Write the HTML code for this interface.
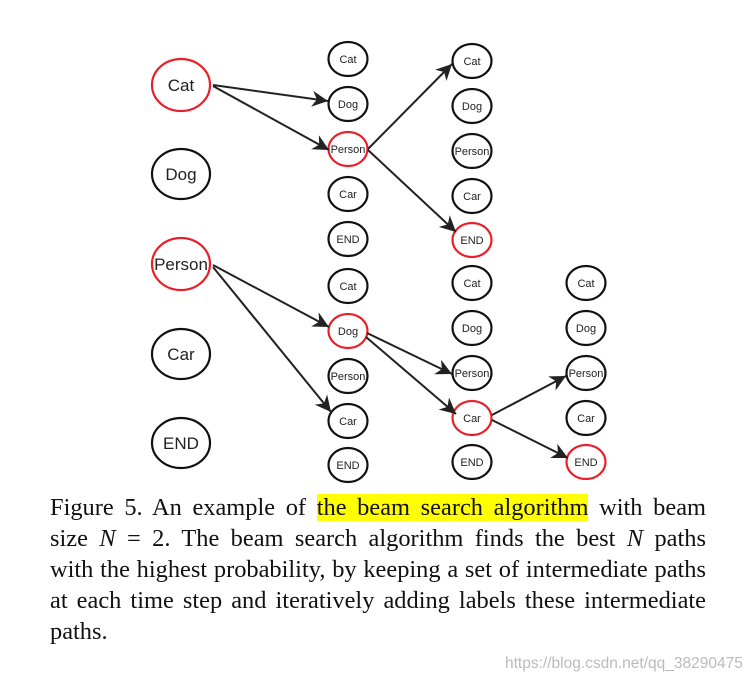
<!DOCTYPE html>
<html><head><meta charset="utf-8"><style>
body{margin:0;background:#fff;width:756px;height:684px;overflow:hidden;position:relative}
svg{position:absolute;left:0;top:0}
.cap{position:absolute;left:50px;top:492px;width:656px;font-family:"Liberation Serif",serif;font-size:24.4px;line-height:31px;color:#111}
.cap div{text-align:justify;text-align-last:justify;white-space:nowrap}
.cap div.l{text-align-last:left}
.hl{background:#ffff00}
.wm{position:absolute;left:505px;top:655px;font-family:"Liberation Sans",sans-serif;font-size:15.5px;color:#bbb}
</style></head><body>
<svg width="756" height="684" viewBox="0 0 756 684" font-family="Liberation Sans, sans-serif">
<defs><marker id="a" viewBox="0 0 10 10" refX="10" refY="5" markerWidth="16" markerHeight="16" markerUnits="userSpaceOnUse" orient="auto"><path d="M0,0 L10,5 L0,10 L3,5 z" fill="#222"/></marker></defs>
<g fill="#fff" stroke-width="2.2">
<ellipse cx="181" cy="85" rx="29" ry="26" stroke="#e8202a"/>
<ellipse cx="181" cy="174" rx="29" ry="25" stroke="#111"/>
<ellipse cx="181" cy="264" rx="29" ry="26" stroke="#e8202a"/>
<ellipse cx="181" cy="354" rx="29" ry="25" stroke="#111"/>
<ellipse cx="181" cy="443" rx="29" ry="25" stroke="#111"/>
</g>
<g font-size="17" text-anchor="middle" fill="#222">
<text x="181" y="91">Cat</text><text x="181" y="180">Dog</text><text x="181" y="270">Person</text><text x="181" y="360">Car</text><text x="181" y="449">END</text>
</g>
<g fill="#fff" stroke-width="2.2" stroke="#111">
<ellipse cx="348" cy="59" rx="19.5" ry="17"/><ellipse cx="348" cy="104" rx="19.5" ry="17"/>
<ellipse cx="348" cy="149" rx="19.5" ry="17" stroke="#e8202a"/><ellipse cx="348" cy="194" rx="19.5" ry="17"/>
<ellipse cx="348" cy="239" rx="19.5" ry="17"/><ellipse cx="348" cy="286" rx="19.5" ry="17"/>
<ellipse cx="348" cy="331" rx="19.5" ry="17" stroke="#e8202a"/><ellipse cx="348" cy="376" rx="19.5" ry="17"/>
<ellipse cx="348" cy="421" rx="19.5" ry="17"/><ellipse cx="348" cy="465" rx="19.5" ry="17"/>
<ellipse cx="472" cy="61" rx="19.5" ry="17"/><ellipse cx="472" cy="106" rx="19.5" ry="17"/>
<ellipse cx="472" cy="151" rx="19.5" ry="17"/><ellipse cx="472" cy="196" rx="19.5" ry="17"/>
<ellipse cx="472" cy="240" rx="19.5" ry="17" stroke="#e8202a"/><ellipse cx="472" cy="283" rx="19.5" ry="17"/>
<ellipse cx="472" cy="328" rx="19.5" ry="17"/><ellipse cx="472" cy="373" rx="19.5" ry="17"/>
<ellipse cx="472" cy="418" rx="19.5" ry="17" stroke="#e8202a"/><ellipse cx="472" cy="462" rx="19.5" ry="17"/>
<ellipse cx="586" cy="283" rx="19.5" ry="17"/><ellipse cx="586" cy="328" rx="19.5" ry="17"/>
<ellipse cx="586" cy="373" rx="19.5" ry="17"/><ellipse cx="586" cy="418" rx="19.5" ry="17"/>
<ellipse cx="586" cy="462" rx="19.5" ry="17" stroke="#e8202a"/>
</g>
<g font-size="11" text-anchor="middle" fill="#222">
<text x="348" y="63">Cat</text><text x="348" y="108">Dog</text><text x="348" y="153">Person</text><text x="348" y="198">Car</text><text x="348" y="243">END</text>
<text x="348" y="290">Cat</text><text x="348" y="335">Dog</text><text x="348" y="380">Person</text><text x="348" y="425">Car</text><text x="348" y="469">END</text>
<text x="472" y="65">Cat</text><text x="472" y="110">Dog</text><text x="472" y="155">Person</text><text x="472" y="200">Car</text><text x="472" y="244">END</text>
<text x="472" y="287">Cat</text><text x="472" y="332">Dog</text><text x="472" y="377">Person</text><text x="472" y="422">Car</text><text x="472" y="466">END</text>
<text x="586" y="287">Cat</text><text x="586" y="332">Dog</text><text x="586" y="377">Person</text><text x="586" y="422">Car</text><text x="586" y="466">END</text>
</g>
<g stroke="#222" stroke-width="2" marker-end="url(#a)">
<line x1="213" y1="85" x2="328" y2="101"/>
<line x1="213" y1="86" x2="329" y2="150"/>
<line x1="368" y1="149" x2="452" y2="64"/>
<line x1="368" y1="150" x2="456" y2="232"/>
<line x1="213" y1="265" x2="329" y2="327"/>
<line x1="213" y1="267" x2="331" y2="412"/>
<line x1="367" y1="333" x2="452" y2="374"/>
<line x1="366" y1="337" x2="456" y2="414"/>
<line x1="492" y1="415" x2="566" y2="376"/>
<line x1="492" y1="420" x2="568" y2="458"/>
</g>
</svg>
<div class="cap">
<div>Figure 5. An example of <span class="hl">the beam search algorithm</span> with beam</div>
<div>size <i>N</i> = 2. The beam search algorithm finds the best <i>N</i> paths</div>
<div>with the highest probability, by keeping a set of intermediate paths</div>
<div>at each time step and iteratively adding labels these intermediate</div>
<div class="l">paths.</div>
</div>
<div class="wm">https://blog.csdn.net/qq_38290475</div>
</body></html>
